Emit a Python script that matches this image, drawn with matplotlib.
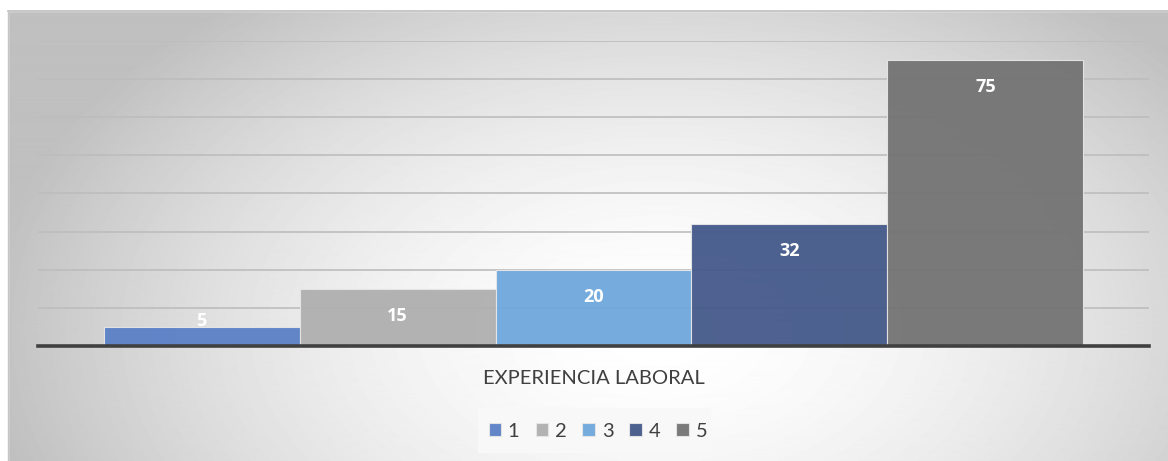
import matplotlib.pyplot as plt
import numpy as np
from matplotlib.patches import Rectangle

# data
series = ['1', '2', '3', '4', '5']
values = [5, 15, 20, 32, 75]
colors = ['#5a80c6', '#afafaf', '#6fa8dc', '#44598a', '#737373']
category = 'EXPERIENCIA LABORAL'

plt.rcParams['font.family'] = ['Lato', 'DejaVu Sans']

W, H = 1168, 461
fig = plt.figure(figsize=(W / 100, H / 100), dpi=100)

# radial gray background of the chart area
bg = fig.add_axes([0, 0, 1, 1], zorder=-10)
yy, xx = np.mgrid[0:H, 0:W]
r = np.sqrt(((xx - 660) / 680.0) ** 2 + ((yy - 330) / 420.0) ** 2)
shade = 1.0 - 0.25 * np.clip(r, 0, 1) ** 1.7
bg.imshow(shade, cmap='gray', vmin=0, vmax=1, extent=[0, W, H, 0], aspect='auto')
# white outside the chart area (left and top strips)
bg.add_patch(Rectangle((0, 0), 8, H, color='white', zorder=2))
bg.add_patch(Rectangle((0, 0), W, 11, color='white', zorder=2))
bg.plot([8, W], [11, 11], color='#bdbdbd', lw=1.2, zorder=3)
bg.plot([8, 8], [11, H], color='#c6c6c6', lw=1.0, zorder=3)
# legend box
bg.add_patch(Rectangle((478, 408), 232, 44, color='#f8f8f8', zorder=2))
bg.set_xlim(0, W)
bg.set_ylim(H, 0)
bg.axis('off')

# plot area
ax = fig.add_axes([38 / W, (H - 346) / H, (1149 - 38) / W, (346 - 41) / H])
ax.patch.set_alpha(0)
x = np.arange(len(values))
bars = ax.bar(x, values, width=1.0, color=colors, alpha=0.95,
              edgecolor='#e6e6e6', linewidth=0.8, zorder=3)

ax.set_ylim(0, 80)
ax.set_xlim(-0.5 - 0.335, len(values) - 0.5 + 0.335)
ax.set_yticks(np.arange(10, 81, 10))
ax.yaxis.grid(True, color='#bdbdbd', linewidth=1.2, zorder=0)
ax.set_axisbelow(True)
ax.tick_params(left=False, bottom=False, labelleft=False, labelbottom=False)
for s in ['top', 'right', 'left']:
    ax.spines[s].set_visible(False)
ax.spines['bottom'].set_color('#404040')
ax.spines['bottom'].set_linewidth(2.6)
ax.spines['bottom'].set_zorder(5)

# data labels
for xi, v in zip(x, values):
    ax.text(xi, max(v - 7.1, 6.6), str(v), ha='center', va='center',
            color='white', fontsize=13, fontweight='bold',
            family=['Open Sans', 'DejaVu Sans'], zorder=6)

# axis title
fig.text(594 / W, 1 - 378 / H, category, ha='center', va='center',
         color='#404040', fontsize=14.5)

# legend
leg = fig.legend(handles=list(bars), labels=series, loc='center',
                 bbox_to_anchor=(598 / W, 1 - 431 / H), ncol=5, frameon=False,
                 handlelength=0.6, handleheight=0.6, handletextpad=0.35,
                 columnspacing=0.8, fontsize=14.5, labelcolor='#404040')

fig.savefig('out.png', dpi=100)
